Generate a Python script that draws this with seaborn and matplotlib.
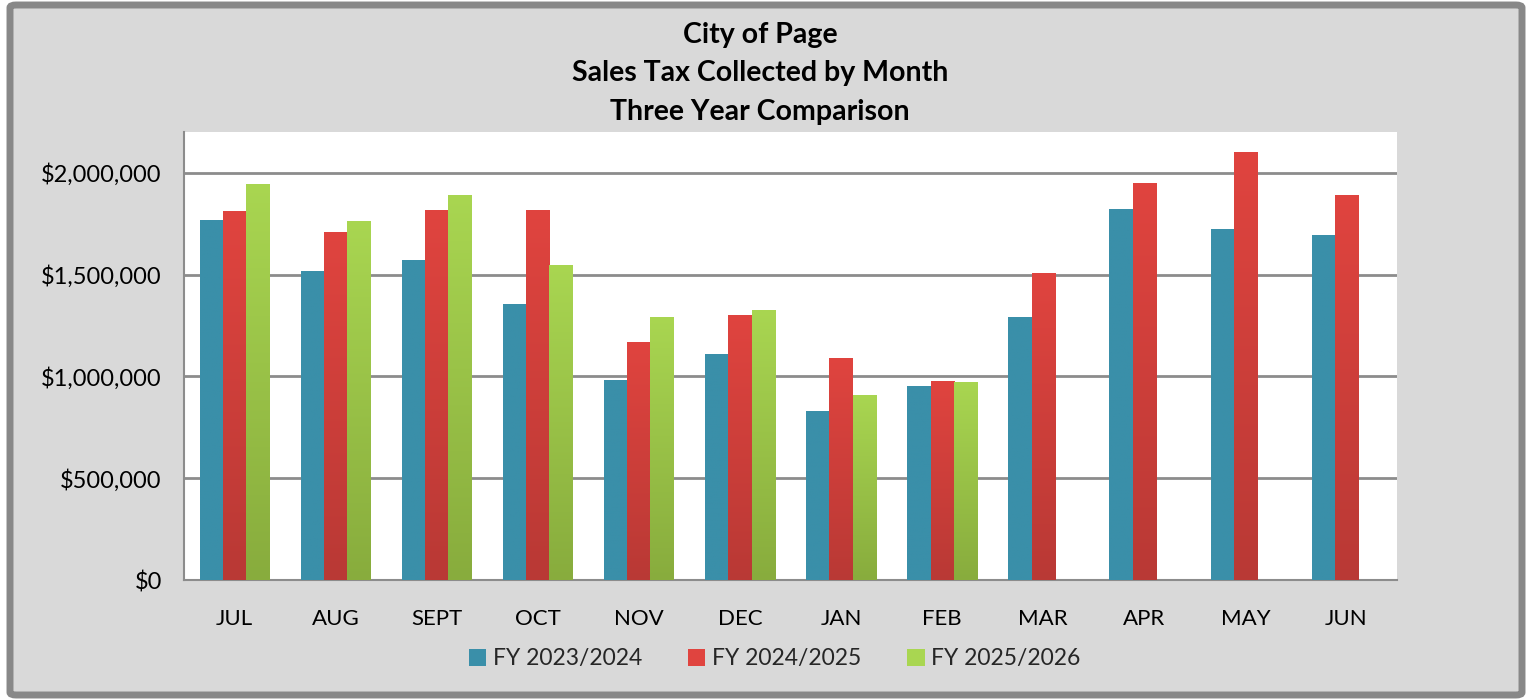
import numpy as np
import pandas as pd
import matplotlib
matplotlib.use("Agg")
import matplotlib.pyplot as plt
import seaborn as sns
from matplotlib.patches import FancyBboxPatch
from matplotlib.colors import LinearSegmentedColormap
from matplotlib.ticker import FuncFormatter, MultipleLocator

months = ["JUL", "AUG", "SEPT", "OCT", "NOV", "DEC", "JAN", "FEB", "MAR", "APR", "MAY", "JUN"]
fy2324 = [1770000, 1515000, 1572000, 1356000, 983000, 1109000, 829000, 953000, 1292000, 1822000, 1726000, 1694000]
fy2425 = [1810000, 1711000, 1818000, 1818000, 1170000, 1302000, 1091000, 978000, 1509000, 1948000, 2103000, 1892000]
fy2526 = [1946000, 1764000, 1893000, 1548000, 1292000, 1327000, 909000, 973000, np.nan, np.nan, np.nan, np.nan]
series = ["FY 2023/2024", "FY 2024/2025", "FY 2025/2026"]
title_lines = ["City of Page", "Sales Tax Collected by Month", "Three Year Comparison"]

df = pd.DataFrame({
    "Month": months * 3,
    "Series": [series[0]] * 12 + [series[1]] * 12 + [series[2]] * 12,
    "Value": fy2324 + fy2425 + fy2526,
})

top_cols = ["#3a8fa9", "#e0443f", "#a9d651"]
bot_cols = ["#3a8fa9", "#b93935", "#88ac3d"]

sns.set_theme(style="white")
plt.rcParams["font.family"] = ["Lato", "DejaVu Sans"]

fig = plt.figure(figsize=(15.27, 6.99), dpi=100)
fig.patch.set_facecolor("white")
W, H = 1527, 699
frame = FancyBboxPatch((10 / W, 4 / H), 1512 / W, 690 / H,
                       boxstyle="round,pad=0,rounding_size=0.004",
                       transform=fig.transFigure, facecolor="#d9d9d9",
                       edgecolor="#888888", linewidth=5, zorder=-10)
fig.patches.append(frame)

ax = fig.add_axes([184 / W, 1 - 580 / H, (1397 - 184) / W, (580 - 132) / H])
ax.set_facecolor("white")

sns.barplot(data=df, x="Month", y="Value", hue="Series", order=months,
            hue_order=series, palette=top_cols, width=0.69, saturation=1,
            errorbar=None, ax=ax, edgecolor="none", linewidth=0)

# gradient fill on each bar
for container, tc, bc in zip(ax.containers, top_cols, bot_cols):
    cmap = LinearSegmentedColormap.from_list("g", [bc, tc])
    for p in container.patches:
        h = p.get_height()
        if not np.isfinite(h) or h <= 0:
            continue
        x0, w = p.get_x(), p.get_width()
        grad = np.linspace(0, 1, 256).reshape(-1, 1)
        im = ax.imshow(grad, extent=(x0, x0 + w, 0, h), origin="lower",
                       cmap=cmap, aspect="auto", zorder=3)
        im.set_clip_path(p)

ax.set_xlim(-0.5, 11.5)
ax.set_ylim(0, 2200000)
ax.yaxis.set_major_locator(MultipleLocator(500000))
ax.yaxis.set_major_formatter(FuncFormatter(lambda v, _: f"${v:,.0f}"))
ax.grid(axis="y", color="#8c8c8c", linewidth=2, zorder=0)
ax.set_axisbelow(True)
for s in ["top", "right"]:
    ax.spines[s].set_visible(False)
for s in ["left", "bottom"]:
    ax.spines[s].set_color("#8c8c8c")
    ax.spines[s].set_linewidth(1.5)

ax.set_xticks(np.arange(12))
ax.set_xticklabels(months)
ax.set_xticks(np.arange(-0.5, 12.0, 1), minor=True)
ax.tick_params(axis="x", which="major", length=0, pad=21, labelsize=16, labelcolor="black")
ax.tick_params(axis="x", which="minor", length=8, width=1.5, color="#8c8c8c")
ax.tick_params(axis="y", length=8, width=1.5, color="#8c8c8c", pad=8, labelsize=17, labelcolor="black")
ax.set_xlabel("")
ax.set_ylabel("")

for i, (line, ypx) in enumerate(zip(title_lines, [35, 73, 112])):
    fig.text(760 / W, 1 - ypx / H, line, ha="center", va="center",
             fontsize=20.5, fontweight="bold", color="black")

handles, labels = ax.get_legend_handles_labels()
if ax.legend_:
    ax.legend_.remove()
fig.legend(handles, labels, loc="center", bbox_to_anchor=(775 / W, 1 - 659 / H),
           ncol=3, frameon=False, fontsize=16.5, handlelength=0.75, handleheight=0.75,
           handletextpad=0.3, columnspacing=2.0)

fig.savefig("out.png", dpi=100, facecolor=fig.get_facecolor())
